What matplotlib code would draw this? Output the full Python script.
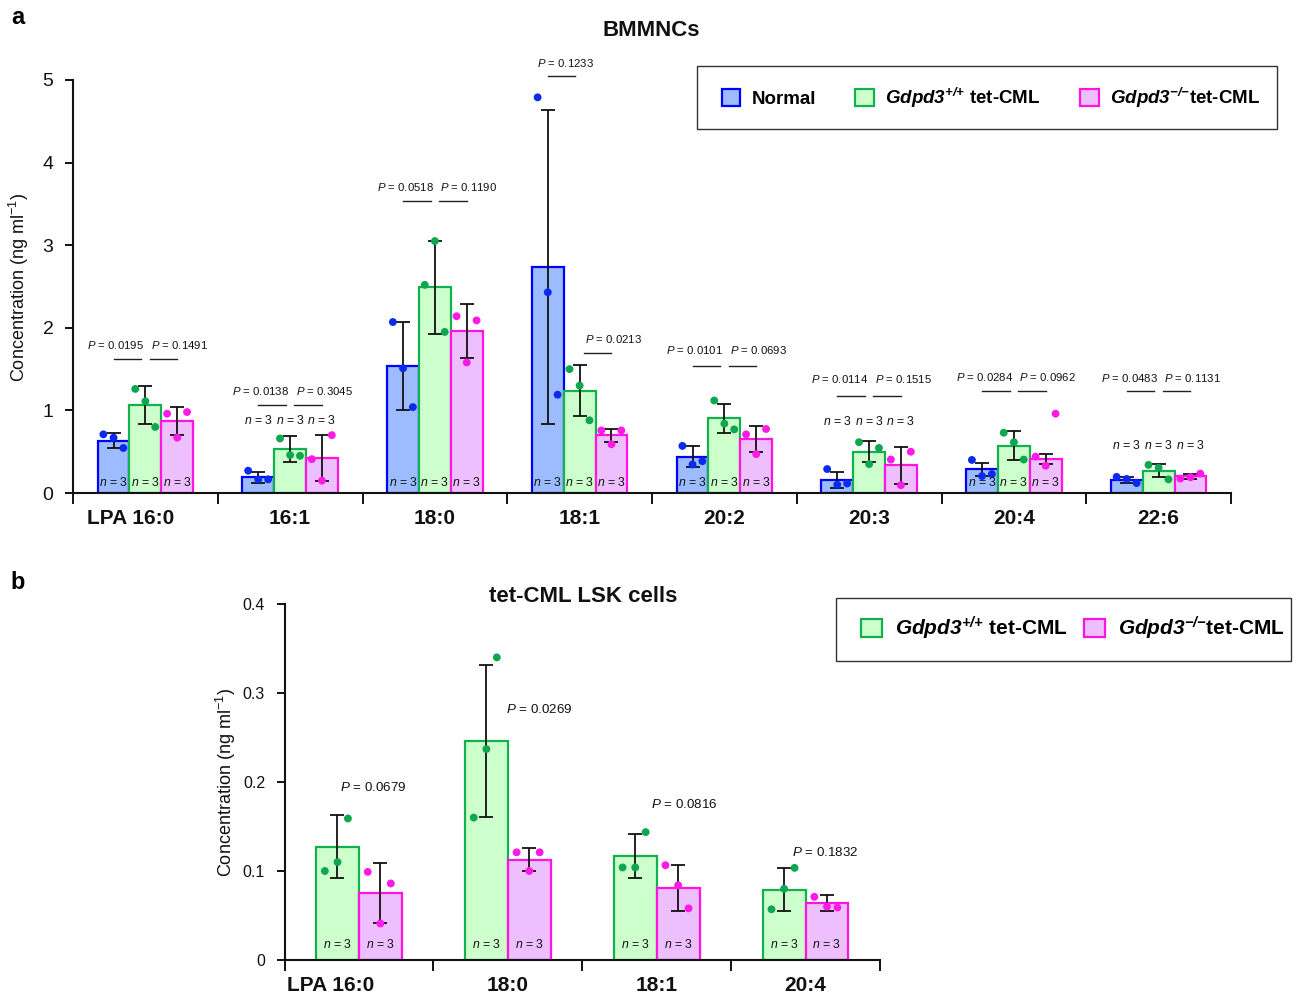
import matplotlib
matplotlib.use('Agg')
import matplotlib.pyplot as plt
from matplotlib.patches import Patch, Rectangle
import matplotlib.transforms as mtransforms
import numpy as np

plt.rcParams['font.family'] = ['Liberation Sans', 'DejaVu Sans']
plt.rcParams['mathtext.fontset'] = 'custom'
plt.rcParams['mathtext.rm'] = 'Liberation Sans'
plt.rcParams['mathtext.it'] = 'Liberation Sans:italic'
plt.rcParams['mathtext.bf'] = 'Liberation Sans:bold'
plt.rcParams['mathtext.bfit'] = 'Liberation Sans:italic:bold'

# ---------------- Data: panel a (BMMNCs) ----------------
cats_a = ['LPA 16:0', '16:1', '18:0', '18:1', '20:2', '20:3', '20:4', '22:6']
normal_mean = [0.635, 0.19, 1.54, 2.74, 0.44, 0.16, 0.285, 0.155]
normal_sd = [0.09, 0.07, 0.53, 1.90, 0.125, 0.095, 0.075, 0.035]
normal_pts = [[0.71, 0.67, 0.545], [0.27, 0.165, 0.165], [2.07, 1.51, 1.04],
              [4.79, 2.43, 1.19], [0.57, 0.345, 0.385], [0.29, 0.10, 0.115],
              [0.40, 0.205, 0.23], [0.195, 0.17, 0.12]]
wt_mean = [1.065, 0.53, 2.49, 1.24, 0.905, 0.50, 0.575, 0.27]
wt_sd = [0.23, 0.16, 0.565, 0.305, 0.175, 0.13, 0.17, 0.08]
wt_pts = [[1.26, 1.11, 0.80], [0.66, 0.46, 0.45], [2.52, 3.05, 1.95],
          [1.50, 1.30, 0.88], [1.12, 0.84, 0.77], [0.615, 0.35, 0.545],
          [0.73, 0.615, 0.405], [0.34, 0.305, 0.165]]
ko_mean = [0.87, 0.425, 1.96, 0.70, 0.655, 0.335, 0.41, 0.20]
ko_sd = [0.17, 0.28, 0.33, 0.08, 0.155, 0.22, 0.06, 0.03]
ko_pts = [[0.96, 0.67, 0.98], [0.41, 0.15, 0.70], [2.14, 1.58, 2.09],
          [0.757, 0.59, 0.757], [0.71, 0.47, 0.775], [0.405, 0.095, 0.50],
          [0.44, 0.33, 0.96], [0.175, 0.19, 0.235]]
p_normal_wt = ['0.0195', '0.0138', '0.0518', '0.1233', '0.0101', '0.0114', '0.0284', '0.0483']
p_wt_ko = ['0.1491', '0.3045', '0.1190', '0.0213', '0.0693', '0.1515', '0.0962', '0.1131']
n_a = 3

# ---------------- Data: panel b (tet-CML LSK cells) ----------------
cats_b = ['LPA 16:0', '18:0', '18:1', '20:4']
wt_b_mean = [0.1275, 0.246, 0.117, 0.079]
wt_b_sd = [0.035, 0.085, 0.025, 0.024]
wt_b_pts = [[0.100, 0.110, 0.159], [0.160, 0.237, 0.340], [0.104, 0.104, 0.1437], [0.057, 0.080, 0.1035]]
ko_b_mean = [0.075, 0.1125, 0.081, 0.064]
ko_b_sd = [0.0335, 0.013, 0.026, 0.009]
ko_b_pts = [[0.099, 0.041, 0.086], [0.121, 0.100, 0.121], [0.1065, 0.084, 0.058], [0.071, 0.060, 0.059]]
p_b = ['0.0679', '0.0269', '0.0816', '0.1832']
n_b = 3

# ---------------- Layout / styles ----------------
# annotation heights (data units) for panel a
p1_text_y = [1.79, 1.23, 3.71, 5.20, 1.73, 1.38, 1.40, 1.39]
p1_line_y = [1.62, 1.06, 3.54, 5.05, 1.54, 1.17, 1.24, 1.23]
p2_text_y = [1.79, 1.23, 3.71, 1.87, 1.73, 1.38, 1.40, 1.39]
p2_line_y = [1.62, 1.06, 3.54, 1.69, 1.54, 1.17, 1.24, 1.23]
p1_text_dx = [-0.205, -0.205, -0.205, -0.10, -0.205, -0.205, -0.205, -0.205]
n_label_y_a = [0.127, 0.875, 0.127, 0.127, 0.127, 0.865, 0.127, 0.57]
# panel b annotation positions
pb_dx = [0.097, 0.208, 0.182, 0.131]
pb_y = [0.194, 0.281, 0.175, 0.1207]

c_normal = dict(fill='#9dbcff', edge='#0000ff', dot='#0a2af0')
c_wt = dict(fill='#ccffcc', edge='#13b050', dot='#0fa650')
c_ko = dict(fill='#eebfff', edge='#ff14e0', dot='#ff1ae6')

W, H = 1295, 996
fig = plt.figure(figsize=(W / 100, H / 100), dpi=100)


def rect(l, t, r, b):
    return [l / W, 1 - b / H, (r - l) / W, (b - t) / H]


def fx(x):
    return x / W


def fy(y):
    return 1 - y / H


def style_axes(ax, ncat, ylim, yticks, yticklabels, ysize):
    ax.set_xlim(-0.5, ncat - 0.5)
    ax.set_ylim(*ylim)
    for s in ['top', 'right']:
        ax.spines[s].set_visible(False)
    for s in ['left', 'bottom']:
        ax.spines[s].set_linewidth(1.5)
        ax.spines[s].set_color('#111111')
    ax.set_yticks(yticks)
    ax.set_yticklabels(yticklabels)
    ax.tick_params(axis='y', direction='out', length=6, width=1.4, labelsize=ysize, pad=8, colors='#111111')
    ax.set_xticks(np.arange(ncat + 1) - 0.5)
    ax.set_xticklabels([])
    ax.tick_params(axis='x', direction='out', length=8, width=1.4, colors='#111111')
    ax.set_facecolor('none')


def draw_series(ax, xs, mean, sd, pts, col, bw, offs):
    ax.bar(xs, mean, width=bw, color=col['fill'], edgecolor=col['edge'], linewidth=1.6, zorder=2)
    ax.errorbar(xs, mean, yerr=sd, fmt='none', ecolor='#111111', elinewidth=1.3,
                capsize=5, capthick=1.3, zorder=3)
    pts = np.asarray(pts)
    for j in range(3):
        ax.scatter(xs + offs[j], pts[:, j], s=32, color=col['dot'], edgecolors='none',
                   zorder=4, clip_on=False)


# ================= Panel a =================
axA = fig.add_axes(rect(73, 80, 1231, 493))
style_axes(axA, len(cats_a), (0, 5), [0, 1, 2, 3, 4, 5], ['0', '1', '2', '3', '4', '5'], 14)
xa = np.arange(len(cats_a))
bw_a = 0.22
offs_a = [-0.07, 0.0, 0.068]
series_a = [(normal_mean, normal_sd, normal_pts, c_normal),
            (wt_mean, wt_sd, wt_pts, c_wt),
            (ko_mean, ko_sd, ko_pts, c_ko)]
for k, (m, s, p, c) in enumerate(series_a):
    xs = xa + (k - 1) * bw_a
    draw_series(axA, xs, m, s, p, c, bw_a, offs_a)
    for i, x in enumerate(xs):
        axA.text(x, n_label_y_a[i], f'$n$ = {n_a}', ha='center', va='center', fontsize=8.8,
                 color='#111111', zorder=5)

for i in range(len(cats_a)):
    axA.text(i + p1_text_dx[i], p1_text_y[i], f'$P$ = {p_normal_wt[i]}', ha='center', va='center',
             fontsize=8.2, clip_on=False, color='#111111')
    axA.text(i + 0.235, p2_text_y[i], f'$P$ = {p_wt_ko[i]}', ha='center', va='center',
             fontsize=8.2, clip_on=False, color='#111111')
    axA.plot([i - 0.124 - 0.095, i - 0.124 + 0.095], [p1_line_y[i]] * 2, color='#222222', lw=1.0,
             clip_on=False)
    axA.plot([i + 0.124 - 0.095, i + 0.124 + 0.095], [p2_line_y[i]] * 2, color='#222222', lw=1.0,
             clip_on=False)

lab_tr_a = mtransforms.blended_transform_factory(axA.transData, axA.transAxes)
label_shift_a = [-0.103] + [0.0] * (len(cats_a) - 1)
for i, c in enumerate(cats_a):
    axA.text(i + label_shift_a[i], -26 / 413, c, transform=lab_tr_a, ha='center', va='center',
             fontsize=15, fontweight='bold', color='#111111')

fig.text(fx(19), fy(287), 'Concentration (ng ml$^{-1}$)', rotation=90, ha='center', va='center',
         fontsize=13, color='#111111')
fig.text(fx(651), fy(31), 'BMMNCs', ha='center', va='center', fontsize=16, fontweight='bold',
         color='#111111')
fig.text(fx(18), fy(18), 'a', ha='center', va='center', fontsize=17, fontweight='bold')

# legend a
fig.patches.append(Rectangle((fx(697), fy(129)), fx(1277) - fx(697), fy(66) - fy(129),
                             transform=fig.transFigure, facecolor='white', edgecolor='#333333',
                             linewidth=1.0, zorder=1))
handles_a = [Patch(facecolor=c_normal['fill'], edgecolor=c_normal['edge'], linewidth=1.6),
             Patch(facecolor=c_wt['fill'], edgecolor=c_wt['edge'], linewidth=1.6),
             Patch(facecolor=c_ko['fill'], edgecolor=c_ko['edge'], linewidth=1.6)]
sup_wt = r'$\mathbfit{Gdpd3}^{\mathbfit{{+}/{+}}}$'
sup_ko = r'$\mathbfit{Gdpd3}^{\mathbfit{{-}/{-}}}$'
labels_a = ['Normal', sup_wt + ' tet-CML', sup_ko + 'tet-CML']
legA = fig.legend(handles_a, labels_a, loc='center', bbox_to_anchor=(fx(991), fy(98)),
                  bbox_transform=fig.transFigure, ncol=3, frameon=False,
                  prop={'weight': 'bold', 'size': 13.5}, handlelength=1.0, handleheight=1.0,
                  handletextpad=0.6, columnspacing=2.1)

# ================= Panel b =================
axB = fig.add_axes(rect(284.5, 604, 880, 960))
style_axes(axB, len(cats_b), (0, 0.4), [0, 0.1, 0.2, 0.3, 0.4], ['0', '0.1', '0.2', '0.3', '0.4'], 11.5)
xb = np.arange(len(cats_b))
bw_b = 0.288
offs_b = [-0.085, 0.0, 0.07]
series_b = [(wt_b_mean, wt_b_sd, wt_b_pts, c_wt), (ko_b_mean, ko_b_sd, ko_b_pts, c_ko)]
for k, (m, s, p, c) in enumerate(series_b):
    xs = xb + (k - 0.5) * bw_b
    draw_series(axB, xs, m, s, p, c, bw_b, offs_b)
    for x in xs:
        axB.text(x, 0.017, f'$n$ = {n_b}', ha='center', va='center', fontsize=8.8,
                 color='#111111', zorder=5)
for i in range(len(cats_b)):
    axB.text(i + pb_dx[i], pb_y[i], f'$P$ = {p_b[i]}', ha='center', va='center', fontsize=9.6,
             color='#111111')

lab_tr_b = mtransforms.blended_transform_factory(axB.transData, axB.transAxes)
label_shift_b = [-0.188] + [0.0] * (len(cats_b) - 1)
for i, c in enumerate(cats_b):
    axB.text(i + label_shift_b[i], -25 / 356, c, transform=lab_tr_b, ha='center', va='center',
             fontsize=15, fontweight='bold', color='#111111')

fig.text(fx(226), fy(782), 'Concentration (ng ml$^{-1}$)', rotation=90, ha='center', va='center',
         fontsize=13, color='#111111')
fig.text(fx(583), fy(596), 'tet-CML LSK cells', ha='center', va='center', fontsize=16,
         fontweight='bold', color='#111111')
fig.text(fx(18), fy(582), 'b', ha='center', va='center', fontsize=17, fontweight='bold')

fig.patches.append(Rectangle((fx(836), fy(661)), fx(1291) - fx(836), fy(598) - fy(661),
                             transform=fig.transFigure, facecolor='white', edgecolor='#333333',
                             linewidth=1.0, zorder=1))
handles_b = [Patch(facecolor=c_wt['fill'], edgecolor=c_wt['edge'], linewidth=1.6),
             Patch(facecolor=c_ko['fill'], edgecolor=c_ko['edge'], linewidth=1.6)]
labels_b = [sup_wt + ' tet-CML', sup_ko + 'tet-CML']
legB = fig.legend(handles_b, labels_b, loc='center', bbox_to_anchor=(fx(1073), fy(628)),
                  bbox_transform=fig.transFigure, ncol=2, frameon=False,
                  prop={'weight': 'bold', 'size': 15}, handlelength=1.0, handleheight=1.0,
                  handletextpad=0.6, columnspacing=0.8)

fig.savefig('out.png', dpi=100)
